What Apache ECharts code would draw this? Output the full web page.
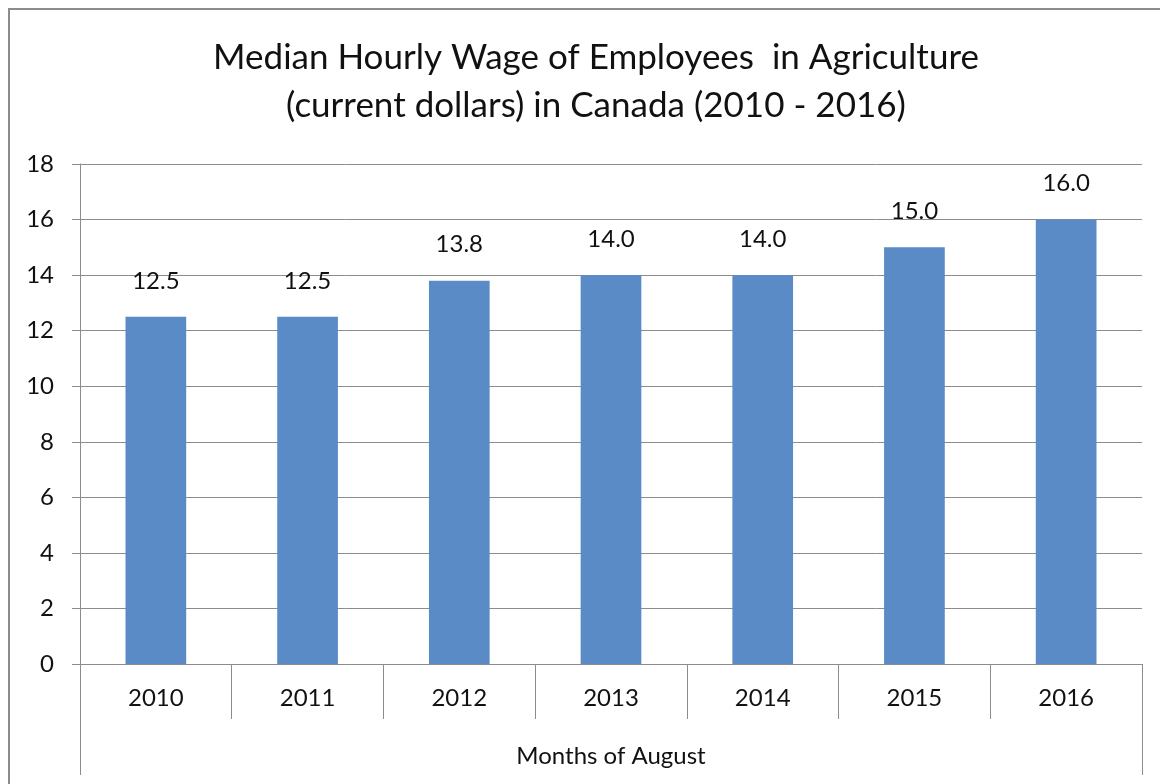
<!DOCTYPE html>
<html><head><meta charset="utf-8">
<script src="https://cdn.jsdelivr.net/npm/echarts@6/dist/echarts.min.js"></script>
<style>html,body{margin:0;padding:0;background:#fff}#c{width:1160px;height:784px}</style>
</head><body><div id="c"></div>
<script>
const titleLines = ['Median Hourly Wage of Employees  in Agriculture', '(current dollars) in Canada (2010 - 2016)'];
const years = ['2010', '2011', '2012', '2013', '2014', '2015', '2016'];
const wages = [12.5, 12.5, 13.8, 14.0, 14.0, 15.0, 16.0];
const groupLabel = ['Months of August'];
const FONT = 'Lato';
const chart = echarts.init(document.getElementById('c'));
chart.setOption({
  animation: false,
  backgroundColor: '#fff',
  textStyle: { fontFamily: FONT },
  title: {
    text: titleLines.join('\n'), left: 591, textAlign: 'center', top: 29,
    textStyle: { fontFamily: FONT, fontSize: 35, fontWeight: 'normal', color: '#111', lineHeight: 48 }
  },
  graphic: [{ type: 'rect', shape: { x: 9, y: 9, width: 1200, height: 800 }, style: { fill: 'none', stroke: '#8c8c8c', lineWidth: 2 }, silent: true }],
  grid: { left: 80, right: 18, top: 164, bottom: 120 },
  xAxis: [{
    type: 'category', data: years, position: 'bottom',
    axisLine: { show: true, lineStyle: { color: '#8c8c8c', width: 1 } },
    axisTick: { show: true, length: 55, lineStyle: { color: '#8c8c8c' } },
    axisLabel: { fontSize: 24, color: '#111', margin: 22, fontFamily: FONT }
  }, {
    type: 'category', data: groupLabel, position: 'bottom', offset: 55,
    axisLine: { show: false },
    axisTick: { show: true, length: 56, lineStyle: { color: '#8c8c8c' } },
    axisLabel: { fontSize: 24, color: '#111', margin: 25, fontFamily: FONT }
  }],
  yAxis: {
    type: 'value', min: 0, max: 18, interval: 2,
    axisLine: { show: true, lineStyle: { color: '#8c8c8c' } },
    axisTick: { show: true, length: 8, lineStyle: { color: '#8c8c8c' } },
    axisLabel: { fontSize: 24, color: '#111', margin: 26, fontFamily: FONT },
    splitLine: { lineStyle: { color: '#8c8c8c', width: 1 } }
  },
  series: [{
    type: 'bar', xAxisIndex: 0, data: wages, barWidth: '40%',
    itemStyle: { color: '#5b8bc6' },
    label: { show: true, position: 'top', distance: 24, fontSize: 24, color: '#111', fontFamily: FONT,
      formatter: p => p.value.toFixed(1) }
  }]
});
</script></body></html>
